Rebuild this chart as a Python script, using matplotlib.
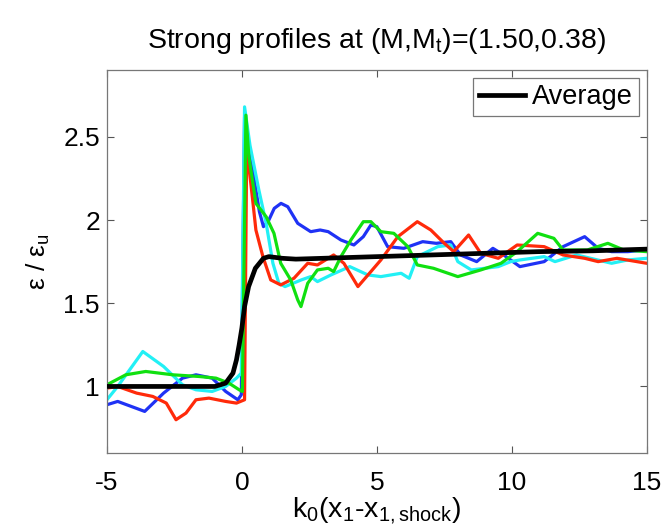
import matplotlib
matplotlib.use("Agg")
import matplotlib.pyplot as plt

plt.rcParams['font.family'] = ['Liberation Sans', 'DejaVu Sans']
plt.rcParams['mathtext.fontset'] = 'custom'
plt.rcParams['mathtext.rm'] = 'Liberation Sans'
plt.rcParams['mathtext.default'] = 'regular'
plt.rcParams['axes.unicode_minus'] = False

# blue profile
bx = [-5, -4.6, -3.6, -2.9, -2.2, -1.7, -1.1, -0.6, -0.15, -0.02, 0.1, 0.35, 0.5, 0.65, 0.8, 1.0, 1.2,
      1.45, 1.7, 2.07, 2.55, 2.9, 3.2, 3.67, 4.15, 4.5, 4.78, 5.0, 5.4, 6.0, 6.7, 7.2, 7.74, 8.1, 8.7,
      9.3, 9.7, 10.3, 11.2, 11.9, 12.7, 13.2, 13.7, 14.3, 15]
by = [0.89, 0.91, 0.85, 0.96, 1.05, 1.07, 1.05, 0.97, 0.92, 0.95, 2.62, 2.35, 2.2, 2.05, 1.96, 2.0, 2.07,
      2.10, 2.08, 1.98, 1.93, 1.94, 1.93, 1.88, 1.85, 1.90, 1.97, 1.96, 1.84, 1.83, 1.87, 1.86, 1.87, 1.79, 1.75,
      1.83, 1.79, 1.72, 1.75, 1.84, 1.90, 1.83, 1.81, 1.81, 1.82]

# cyan profile
cx = [-5, -4.6, -3.67, -2.9, -2.2, -1.7, -1.1, -0.6, -0.2, -0.02, 0.1, 0.3, 0.63, 0.9, 1.15, 1.37, 1.6,
      2.2, 2.55, 2.8, 3.3, 4.0, 4.67, 5.15, 5.9, 6.2, 6.5, 7.26, 7.74, 8.0, 8.5, 9.5, 9.96, 10.3, 11.2,
      11.6, 12.4, 13.7, 14.3, 15]
cy = [0.92, 1.0, 1.21, 1.12, 1.01, 0.98, 0.97, 1.0, 1.05, 1.08, 2.68, 2.45, 2.18, 1.98, 1.74, 1.62, 1.60,
      1.64, 1.66, 1.63, 1.67, 1.72, 1.67, 1.66, 1.68, 1.65, 1.78, 1.84, 1.85, 1.75, 1.70, 1.72, 1.75, 1.76, 1.78,
      1.75, 1.79, 1.74, 1.76, 1.77]

# red profile
rx = [-5, -4.6, -3.9, -3.3, -2.8, -2.44, -2.07, -1.7, -1.22, -0.6, -0.2, 0.1, 0.18, 0.4, 0.52, 0.78, 1.07,
      1.44, 1.93, 2.44, 2.8, 3.4, 3.78, 4.3, 4.78, 5.15, 5.78, 6.5, 7.0, 7.5, 7.85, 8.4, 8.85, 9.5, 10.2,
      11.2, 11.9, 12.7, 13.2, 13.9, 15]
ry = [0.99, 1.0, 0.96, 0.94, 0.90, 0.80, 0.84, 0.92, 0.93, 0.91, 0.90, 0.92, 2.44, 2.12, 1.94, 1.78, 1.64,
      1.61, 1.65, 1.74, 1.73, 1.79, 1.74, 1.60, 1.69, 1.76, 1.90, 1.99, 1.94, 1.86, 1.81, 1.91, 1.80, 1.77, 1.85,
      1.84, 1.79, 1.77, 1.75, 1.77, 1.74]

# green profile
gx = [-5, -4.3, -3.56, -2.56, -1.6, -0.96, -0.48, -0.1, 0.02, 0.15, 0.26, 0.52, 0.9, 1.19, 1.44, 1.81,
      2.07, 2.19, 2.44, 2.8, 3.2, 3.4, 3.67, 4.04, 4.5, 4.78, 5.15, 5.63, 6.15, 6.5, 7.1, 8.0, 8.85, 9.6,
      10.2, 10.96, 11.56, 11.9, 12.8, 13.56, 14.15, 15]
gy = [1.01, 1.07, 1.09, 1.07, 1.06, 1.05, 1.02, 0.98, 0.97, 2.63, 2.38, 2.10, 2.02, 1.92, 1.74, 1.64,
      1.52, 1.48, 1.62, 1.70, 1.71, 1.69, 1.78, 1.88, 1.99, 1.99, 1.93, 1.92, 1.84, 1.73, 1.71, 1.66, 1.70, 1.74,
      1.81, 1.92, 1.89, 1.82, 1.82, 1.86, 1.82, 1.81]

# average profile
avx = [-5, -2, -1, -0.6, -0.33, -0.2, -0.1, 0, 0.1, 0.25, 0.5, 0.8, 1.0, 1.5, 2.0, 3.0, 4.0, 5.0, 7.0,
       9.0, 11.0, 13.0, 15.0]
avy = [1.0, 1.0, 1.0, 1.02, 1.08, 1.16, 1.25, 1.35, 1.48, 1.60, 1.71, 1.77, 1.78, 1.77, 1.765, 1.77, 1.775,
       1.78, 1.79, 1.80, 1.81, 1.815, 1.825]

xticks = [-5, 0, 5, 10, 15]
yticks = [1, 1.5, 2, 2.5]
yticklabels = ['1', '1.5', '2', '2.5']

fig = plt.figure(figsize=(6.64, 5.28), dpi=100)
ax = fig.add_axes([0.161, 0.142, 0.813, 0.725])

lw = 2.3
ax.plot(bx, by, color='#1f32f5', lw=lw)
ax.plot(cx, cy, color='#22f0f5', lw=lw)
ax.plot(rx, ry, color='#ff2a0a', lw=lw)
ax.plot(gx, gy, color='#10e010', lw=lw)
ax.plot(avx, avy, color='black', lw=3.4, label='Average', zorder=5)

ax.set_xlim(-5, 15)
ax.set_ylim(0.6, 2.9)
ax.set_xticks(xticks)
ax.set_yticks(yticks)
ax.set_yticklabels(yticklabels)
ax.tick_params(direction='in', top=True, right=True, length=5, width=0.8,
               color='#555555', labelsize=19)
ax.tick_params(axis='x', pad=13)
ax.tick_params(axis='y', pad=5)
for s in ax.spines.values():
    s.set_color('#777777')
    s.set_linewidth(0.9)

ax.set_title('Strong profiles at (M,M$_t$)=(1.50,0.38)', fontsize=20.5, pad=16)
ax.set_xlabel('k$_0$(x$_1$-x$_{1,shock}$)', fontsize=20.5, labelpad=0)
ax.set_ylabel('ε / ε$_u$', fontsize=19, labelpad=8)

leg = ax.legend(loc='upper right', fontsize=19.5, fancybox=False, framealpha=1,
                handlelength=1.7, handletextpad=0.25, borderpad=0.22, borderaxespad=0.3)
leg.get_frame().set_edgecolor('#777777')
leg.get_frame().set_linewidth(0.9)

fig.savefig('out.png', dpi=100)
